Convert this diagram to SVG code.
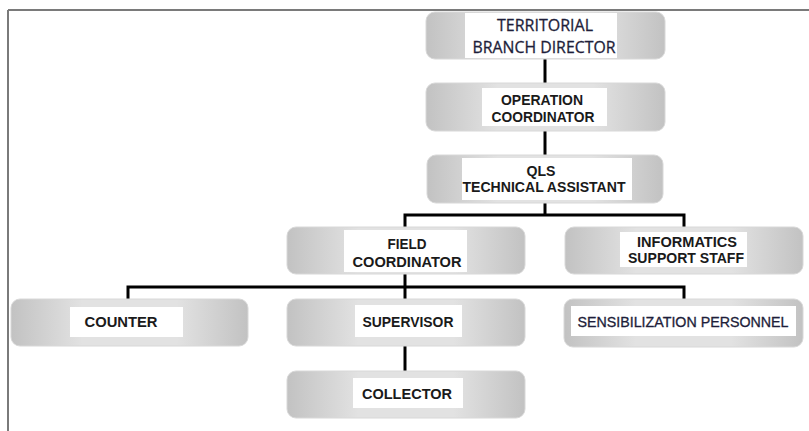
<svg xmlns="http://www.w3.org/2000/svg" width="809" height="431" viewBox="0 0 809 431">
<defs>
<linearGradient id="g" x1="0" y1="0" x2="1" y2="0">
<stop offset="0" stop-color="#c2c2c2"/>
<stop offset="0.3" stop-color="#e2e2e2"/>
<stop offset="0.7" stop-color="#e2e2e2"/>
<stop offset="1" stop-color="#c2c2c2"/>
</linearGradient>
</defs>
<style>
.box{fill:url(#g);stroke:#d8d8d8;stroke-width:1}
.lab{fill:#ffffff}
.t{font-family:"Liberation Sans",Arial,sans-serif;font-weight:bold;font-size:15px;fill:#1a1a1a;text-anchor:middle}
.c{font-family:"Open Sans","Liberation Sans",sans-serif;font-size:17px;fill:#1e1e3a;text-anchor:middle;stroke:#1e1e3a;stroke-width:0.3}
.s{font-family:"Liberation Sans",Arial,sans-serif;font-size:14px;fill:#1e1e3a;text-anchor:middle;stroke:#1e1e3a;stroke-width:0.3}
.ln{stroke:#000;stroke-width:3;fill:none}
</style>
<rect width="809" height="431" fill="#ffffff"/>
<g id="frame">
<line x1="8" y1="10" x2="809" y2="10" stroke="#7a7a7a" stroke-width="2"/>
<line x1="8" y1="10" x2="8" y2="431" stroke="#7a7a7a" stroke-width="2"/>
</g>
<g id="connectors">
<line class="ln" x1="545" y1="59" x2="545" y2="83"/>
<line class="ln" x1="545" y1="131" x2="545" y2="155"/>
<polyline class="ln" points="405,227 405,215 684,215 684,227"/>
<line class="ln" x1="545" y1="203" x2="545" y2="215"/>
<polyline class="ln" points="128,299 128,287 684,287 684,299"/>
<line class="ln" x1="405" y1="274" x2="405" y2="299"/>
<line class="ln" x1="405" y1="346" x2="405" y2="371"/>
</g>
<g id="territorial">
<rect class="box" x="426" y="12" width="239" height="47" rx="9"/>
<rect class="lab" x="465" y="13" width="152" height="45"/>
<text class="c" x="545" y="31" textLength="96" lengthAdjust="spacingAndGlyphs">TERRITORIAL</text>
<text class="c" x="544" y="53" textLength="143" lengthAdjust="spacingAndGlyphs">BRANCH DIRECTOR</text>
</g>
<g id="operation">
<rect class="box" x="426" y="83" width="239" height="48" rx="9"/>
<rect class="lab" x="482" y="88" width="125" height="38"/>
<text class="t" x="542" y="105" textLength="82" lengthAdjust="spacingAndGlyphs">OPERATION</text>
<text class="t" x="543" y="122" textLength="103" lengthAdjust="spacingAndGlyphs">COORDINATOR</text>
</g>
<g id="qls">
<rect class="box" x="427" y="155" width="236" height="48" rx="9"/>
<rect class="lab" x="462" y="158" width="170" height="42"/>
<text class="t" x="541" y="176" textLength="29" lengthAdjust="spacingAndGlyphs">QLS</text>
<text class="t" x="544" y="192" textLength="163" lengthAdjust="spacingAndGlyphs">TECHNICAL ASSISTANT</text>
</g>
<g id="field">
<rect class="box" x="287" y="227" width="238" height="47" rx="9"/>
<rect class="lab" x="344" y="230" width="123" height="42"/>
<text class="t" x="407" y="249" textLength="39" lengthAdjust="spacingAndGlyphs">FIELD</text>
<text class="t" x="407" y="267" textLength="109" lengthAdjust="spacingAndGlyphs">COORDINATOR</text>
</g>
<g id="informatics">
<rect class="box" x="565" y="227" width="238" height="47" rx="9"/>
<rect class="lab" x="620" y="232" width="127" height="35"/>
<text class="t" x="687" y="247" textLength="100" lengthAdjust="spacingAndGlyphs">INFORMATICS</text>
<text class="t" x="686" y="263" textLength="116" lengthAdjust="spacingAndGlyphs">SUPPORT STAFF</text>
</g>
<g id="counter">
<rect class="box" x="11" y="299" width="237" height="47" rx="9"/>
<rect class="lab" x="70" y="307" width="113" height="30"/>
<text class="t" x="121" y="327" textLength="73" lengthAdjust="spacingAndGlyphs">COUNTER</text>
</g>
<g id="supervisor">
<rect class="box" x="287" y="299" width="238" height="47" rx="9"/>
<rect class="lab" x="355" y="305" width="107" height="32"/>
<text class="t" x="408" y="327" textLength="91" lengthAdjust="spacingAndGlyphs">SUPERVISOR</text>
</g>
<g id="sensibilization">
<rect class="box" x="564" y="299" width="239" height="48" rx="9"/>
<rect class="lab" x="571" y="306" width="225" height="30"/>
<text class="s" x="683" y="327" textLength="211" lengthAdjust="spacingAndGlyphs">SENSIBILIZATION PERSONNEL</text>
</g>
<g id="collector">
<rect class="box" x="287" y="371" width="238" height="47" rx="9"/>
<rect class="lab" x="353" y="378" width="110" height="30"/>
<text class="t" x="407" y="399" textLength="90" lengthAdjust="spacingAndGlyphs">COLLECTOR</text>
</g>
</svg>
